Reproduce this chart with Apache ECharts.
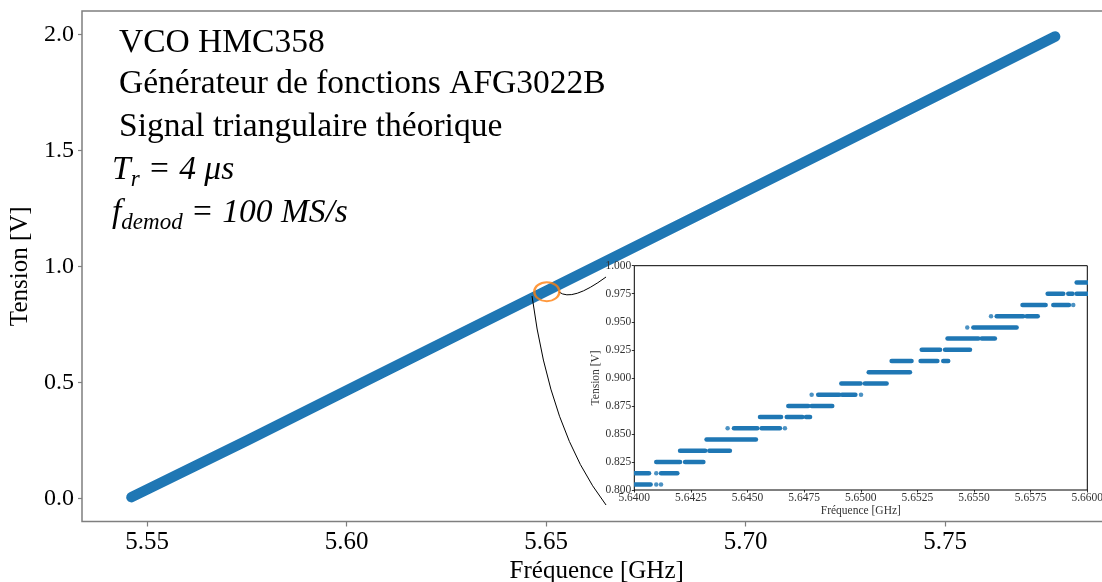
<!DOCTYPE html>
<html>
<head>
<meta charset="utf-8">
<script src="https://cdn.jsdelivr.net/npm/echarts@6/dist/echarts.min.js"></script>
<style>
html,body{margin:0;padding:0;background:#fff;}
#chart{width:1102px;height:582px;}
</style>
</head>
<body>
<div id="chart"></div>
<script>
// ---- Main plot data ----
const mainFreq = [5.5461, 5.5752, 5.6042, 5.6333, 5.6625, 5.6916, 5.7196, 5.7486, 5.7776];
const mainVolt = [0.005, 0.25, 0.50, 0.75, 1.00, 1.25, 1.49, 1.74, 1.99];
const mainXTicks = [5.55, 5.60, 5.65, 5.70, 5.75];
const mainYTicks = [0.0, 0.5, 1.0, 1.5, 2.0];

// ---- Inset (zoom 5.64-5.66 GHz) : horizontal runs of points ----
const insetLevel = [0.805, 0.815, 0.815, 0.825, 0.825, 0.835, 0.835, 0.845, 0.855, 0.855,
                    0.865, 0.865, 0.865, 0.875, 0.875, 0.885, 0.885, 0.895, 0.895, 0.905,
                    0.915, 0.915, 0.915, 0.925, 0.925, 0.935, 0.935, 0.945, 0.955, 0.955,
                    0.965, 0.965, 0.975, 0.975, 0.975, 0.985];
const insetStart = [5.64003, 5.64003, 5.64118, 5.64097, 5.64224, 5.64202, 5.64331, 5.64319, 5.64440, 5.64562,
                    5.64555, 5.64673, 5.64758, 5.64680, 5.64783, 5.64812, 5.64917, 5.64914, 5.65018, 5.65035,
                    5.65136, 5.65264, 5.65364, 5.65269, 5.65372, 5.65383, 5.65534, 5.65497, 5.65600, 5.65732,
                    5.65714, 5.65850, 5.65825, 5.65916, 5.65953, 5.65953];
const insetEnd   = [5.64072, 5.64065, 5.64190, 5.64202, 5.64305, 5.64313, 5.64422, 5.64537, 5.64543, 5.64643,
                    5.64648, 5.64742, 5.64776, 5.64768, 5.64874, 5.64905, 5.64976, 5.64999, 5.65114, 5.65217,
                    5.65224, 5.65338, 5.65386, 5.65350, 5.65482, 5.65519, 5.65592, 5.65688, 5.65717, 5.65781,
                    5.65816, 5.65919, 5.65894, 5.65935, 5.66000, 5.66000];
const dotFreq = [5.64097, 5.64118, 5.64097, 5.64412, 5.64665, 5.64783, 5.65001, 5.65470, 5.65575, 5.65938];
const dotVolt = [0.805, 0.805, 0.815, 0.855, 0.855, 0.885, 0.885, 0.945, 0.955, 0.965];
const insetXTicks = [5.64, 5.6425, 5.645, 5.6475, 5.65, 5.6525, 5.655, 5.6575, 5.66];
const insetYTicks = [0.8, 0.825, 0.85, 0.875, 0.9, 0.925, 0.95, 0.975, 1.0];

// ---- Zoom indicator and connectors (data coordinates) ----
const zoomFreq = [5.6502];
const zoomVolt = [0.8903];
// [x1, y1, ctrlX, ctrlY, x2, y2]
const connectorA = [5.65326, 0.8890, 5.65652, 0.8459, 5.66504, 0.9537];
const connectorB = [5.64649, 0.8718, 5.65100, 0.2857, 5.66504, -0.0289];

// ---- Texts ----
const textLines = ['VCO HMC358', 'Générateur de fonctions AFG3022B', 'Signal triangulaire théorique'];

const SERIF = '"Liberation Serif", "DejaVu Serif", serif';
const BLUE = '#1f77b4';

const chart = echarts.init(document.getElementById('chart'), null, {renderer: 'canvas'});

const mainData = mainFreq.map((f, i) => [f, mainVolt[i]]);
const segData = insetLevel.map((v, i) => [insetStart[i], v, insetEnd[i]]);
const dotData = dotFreq.map((f, i) => [f, dotVolt[i]]);
const zoomData = zoomFreq.map((f, i) => [f, zoomVolt[i]]);

const FS = 33.5;
const lineTop = [43, 84, 127, 170, 213];
const graphics = textLines.map((t, i) => ({
  type: 'text', x: 119, y: lineTop[i], z: 100,
  style: {text: t, font: FS + 'px ' + SERIF, fill: '#000', align: 'left', verticalAlign: 'middle'}
}));
const richStyles = {
  i: {font: 'italic ' + FS + 'px ' + SERIF, lineHeight: 42, verticalAlign: 'middle'},
  n: {font: FS + 'px ' + SERIF, lineHeight: 42, verticalAlign: 'middle', padding: [0, 2, 0, 2]},
  s: {font: 'italic 23px ' + SERIF, lineHeight: 23, verticalAlign: 'bottom'}
};
graphics.push({
  type: 'text', x: 112, y: lineTop[3], z: 100,
  style: {text: '{i|T}{s|r}{n| = }{i|4 μs}', align: 'left', verticalAlign: 'middle', fill: '#000', rich: richStyles}
});
graphics.push({
  type: 'text', x: 112, y: lineTop[4], z: 100,
  style: {text: '{i|f}{s|demod}{n| = }{i|100 MS/s}', align: 'left', verticalAlign: 'middle', fill: '#000', rich: richStyles}
});

function bezierItem(params, api) {
  const p1 = api.coord([api.value(0), api.value(1)]);
  const c = api.coord([api.value(2), api.value(3)]);
  const p2 = api.coord([api.value(4), api.value(5)]);
  return {
    type: 'bezierCurve',
    shape: {x1: p1[0], y1: p1[1], cpx1: c[0], cpy1: c[1], x2: p2[0], y2: p2[1]},
    style: {stroke: '#000', lineWidth: 1, fill: 'none'}
  };
}

const option = {
  animation: false,
  backgroundColor: '#fff',
  grid: [
    {left: 82, top: 11, width: 1029.4, height: 510.5, show: true, borderColor: '#7f7f7f', borderWidth: 1.5,
     backgroundColor: 'transparent', containLabel: false, outerBoundsMode: 'none'},
    {left: 634.3, top: 265.7, width: 453, height: 224.3, show: true, borderColor: '#000', borderWidth: 1,
     backgroundColor: '#fff', containLabel: false, outerBoundsMode: 'none', z: 3}
  ],
  xAxis: [
    {gridIndex: 0, type: 'value', min: 5.5337, max: 5.7917,
     axisLine: {show: false, onZero: false}, splitLine: {show: false},
     axisTick: {show: true, length: 5, customValues: mainXTicks, lineStyle: {color: '#7f7f7f', width: 1.2}},
     axisLabel: {customValues: mainXTicks, formatter: v => v.toFixed(2), fontFamily: SERIF, fontSize: 25, color: '#000', margin: 8},
     name: 'Fréquence [GHz]', nameLocation: 'middle', nameGap: 33,
     nameTextStyle: {fontFamily: SERIF, fontSize: 25, color: '#000'}},
    {gridIndex: 1, type: 'value', min: 5.64, max: 5.66, z: 5,
     axisLine: {show: false, onZero: false}, splitLine: {show: false},
     axisTick: {show: true, length: 2.5, customValues: insetXTicks, lineStyle: {color: '#000', width: 0.8}},
     axisLabel: {customValues: insetXTicks, formatter: v => v.toFixed(4), fontFamily: SERIF, fontSize: 11.5, color: '#333', margin: 2},
     name: 'Fréquence [GHz]', nameLocation: 'middle', nameGap: 15,
     nameTextStyle: {fontFamily: SERIF, fontSize: 11.5, color: '#333'}}
  ],
  yAxis: [
    {gridIndex: 0, type: 'value', min: -0.1, max: 2.1,
     axisLine: {show: false, onZero: false}, splitLine: {show: false},
     axisTick: {show: true, length: 4, customValues: mainYTicks, lineStyle: {color: '#7f7f7f', width: 1.2}},
     axisLabel: {customValues: mainYTicks, formatter: v => v.toFixed(1), fontFamily: SERIF, fontSize: 24, color: '#000', margin: 8},
     name: 'Tension [V]', nameLocation: 'middle', nameGap: 46,
     nameTextStyle: {fontFamily: SERIF, fontSize: 25, color: '#000'}},
    {gridIndex: 1, type: 'value', min: 0.8, max: 1.0, z: 5,
     axisLine: {show: false, onZero: false}, splitLine: {show: false},
     axisTick: {show: true, length: 2.5, customValues: insetYTicks, lineStyle: {color: '#000', width: 0.8}},
     axisLabel: {customValues: insetYTicks, formatter: v => v.toFixed(3), fontFamily: SERIF, fontSize: 11.5, color: '#333', margin: 3},
     name: 'Tension [V]', nameLocation: 'middle', nameGap: 31,
     nameTextStyle: {fontFamily: SERIF, fontSize: 11.5, color: '#333'}}
  ],
  graphic: graphics,
  series: [
    {type: 'line', xAxisIndex: 0, yAxisIndex: 0, data: mainData, symbol: 'none', silent: true, z: 2,
     lineStyle: {color: BLUE, width: 10.5, cap: 'round', join: 'round'}},
    {type: 'scatter', xAxisIndex: 0, yAxisIndex: 0, data: zoomData, symbol: 'circle', symbolSize: [25, 19], z: 4, silent: true,
     itemStyle: {color: 'rgba(0,0,0,0)', borderColor: '#ff7f0e', borderWidth: 2.2}},
    {type: 'custom', xAxisIndex: 0, yAxisIndex: 0, data: [connectorA, connectorB], renderItem: bezierItem, clip: false, z: 4, silent: true},
    {type: 'custom', xAxisIndex: 1, yAxisIndex: 1, data: segData, clip: true, z: 6, silent: true,
     encode: {x: [0, 2], y: 1},
     renderItem: function (params, api) {
       const p1 = api.coord([api.value(0), api.value(1)]);
       const p2 = api.coord([api.value(2), api.value(1)]);
       return {type: 'line', shape: {x1: p1[0], y1: p1[1], x2: p2[0], y2: p2[1]},
               style: {stroke: BLUE, lineWidth: 4.5, lineCap: 'round'}};
     }},
    {type: 'scatter', xAxisIndex: 1, yAxisIndex: 1, data: dotData, symbolSize: 4.5, clip: true, z: 6, silent: true,
     itemStyle: {color: BLUE}}
  ]
};
chart.setOption(option);
</script>
</body>
</html>
